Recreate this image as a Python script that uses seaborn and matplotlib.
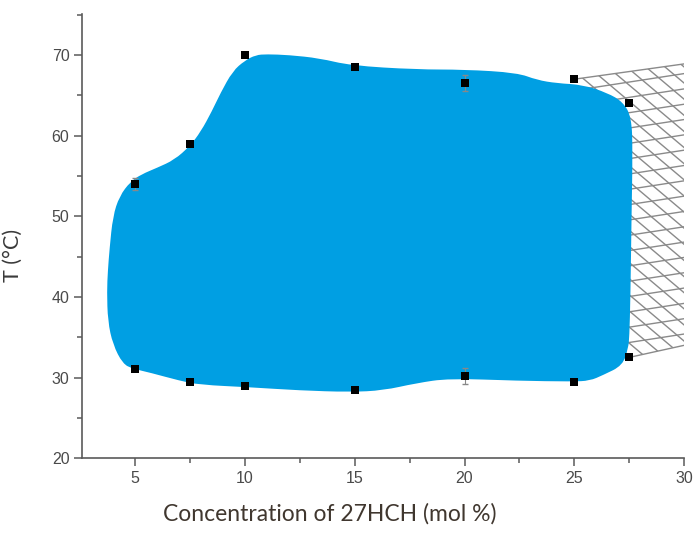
import numpy as np
import pandas as pd
import matplotlib
matplotlib.use("Agg")
import matplotlib.pyplot as plt
from matplotlib.patches import Polygon, PathPatch
from matplotlib.path import Path
from matplotlib.ticker import MultipleLocator
import seaborn as sns

# measured points (upper / lower transition temperatures)
conc = [5, 7.5, 10, 15, 20, 25, 27.5]
t_upper = [54, 59, 70, 68.5, 66.5, 67, 64]
t_lower = [31, 29.5, 29, 28.5, 30.2, 29.5, 32.5]
err_upper = [0.8, 0, 0, 0, 1.0, 0, 0]
err_lower = [0, 0, 0, 0, 1.0, 0, 0]

# outline of the shaded (blue) region
blob_x = [3.73, 3.77, 3.85, 4.0, 4.3, 4.8, 5.3, 6.0, 6.8, 7.5, 8.0, 8.5, 8.9,
          9.45, 10.0, 10.5, 11.0, 12.0, 13.4, 14.8, 17.8, 20.0, 22.4, 23.3,
          24.2, 25.4, 26.5, 27.2, 27.6, 27.65, 27.6, 27.55, 27.5, 27.45, 27.2,
          26.3, 25.7, 24.9, 22.4, 19.3, 17.8, 16.3, 14.8, 12.5, 10.2, 7.95,
          7.05, 5.7, 4.9, 4.45, 4.0, 3.77]
blob_y = [40.7, 43.2, 46.0, 50.0, 52.5, 54.3, 55.2, 56.0, 57.0, 58.7, 60.5,
          63.0, 65.3, 68.0, 69.3, 70.0, 70.1, 70.0, 69.6, 68.7, 68.2, 68.2,
          67.8, 66.9, 66.5, 66.3, 65.3, 64.2, 62.3, 58.0, 50.0, 40.0, 35.0,
          33.7, 31.5, 30.3, 29.6, 29.5, 29.6, 29.9, 29.3, 28.4, 28.2, 28.4,
          28.8, 29.1, 29.6, 30.6, 31.1, 31.7, 34.1, 37.0]

# corners of the cross-hatched region on the right
hatch_x = [25, 30, 30, 27.5]
hatch_y = [67, 68.9, 34.0, 32.5]


def smooth_closed_path(xs, ys):
    # quadratic curves through midpoints, outline points act as controls
    pts = np.column_stack([xs, ys])
    nxt = np.roll(pts, -1, axis=0)
    mids = (pts + nxt) / 2
    verts = [mids[-1]]
    codes = [Path.MOVETO]
    for p, m in zip(pts, mids):
        verts += [p, m]
        codes += [Path.CURVE3, Path.CURVE3]
    return Path(verts, codes)


sns.set_style("ticks")
plt.rcParams["font.family"] = ["Liberation Sans", "DejaVu Sans"]

fig = plt.figure(figsize=(6.94, 5.34), dpi=100)
ax = fig.add_axes([0.118, 0.142, 0.868, 0.832])

# hatched region: two families of slanted lines clipped to the polygon
hatch_poly = Polygon(np.column_stack([hatch_x, hatch_y]), closed=True,
                     facecolor="none", edgecolor="none", zorder=1)
ax.add_patch(hatch_poly)
hc = "#8a8a8a"
xs = np.array([24, 31])
for c in np.arange(20, 80, 1.9):
    ln, = ax.plot(xs, c + 0.42 * (xs - 25), color=hc, lw=1.0, zorder=1)
    ln.set_clip_path(hatch_poly)
for d in np.arange(20, 140, 2.0):
    ln, = ax.plot(xs, d - 2.3 * (xs - 25), color=hc, lw=1.0, zorder=1)
    ln.set_clip_path(hatch_poly)
ax.plot(hatch_x[:2], hatch_y[:2], color=hc, lw=1.0, zorder=1)
ax.plot([hatch_x[3], hatch_x[2]], [hatch_y[3], hatch_y[2]], color=hc, lw=1.0, zorder=1)

# blue region
ax.add_patch(PathPatch(smooth_closed_path(blob_x, blob_y), facecolor="#009fe3",
                       lw=0, zorder=2))

# error bars and points
ax.errorbar(conc, t_upper, yerr=err_upper, fmt="none", ecolor="#888888",
            elinewidth=0.8, capsize=2.5, zorder=3)
ax.errorbar(conc, t_lower, yerr=err_lower, fmt="none", ecolor="#888888",
            elinewidth=0.8, capsize=2.5, zorder=3)
pts = pd.DataFrame({"conc": conc * 2, "T": t_upper + t_lower})
sns.scatterplot(data=pts, x="conc", y="T", marker="s", s=32, color="black",
                edgecolor="black", linewidth=0, ax=ax, zorder=4)

ax.set_xlim(2.59, 30)
ax.set_ylim(20, 75.1)
ax.xaxis.set_major_locator(MultipleLocator(5))
ax.xaxis.set_minor_locator(MultipleLocator(2.5))
ax.yaxis.set_major_locator(MultipleLocator(10))
ax.yaxis.set_minor_locator(MultipleLocator(5))
ax.set_xticks([5, 10, 15, 20, 25, 30])

sns.despine(ax=ax)
for side in ["left", "bottom"]:
    ax.spines[side].set_color("#5a5a5a")
    ax.spines[side].set_linewidth(1.2)
ax.tick_params(which="major", length=6, width=1.1, color="#5a5a5a",
               labelsize=11.5, labelcolor="#4a4a4a", pad=3)
ax.tick_params(which="minor", length=3.5, width=1.1, color="#5a5a5a")

ax.set_xlabel("Concentration of 27HCH (mol %)", fontsize=16.5, color="#40372f",
              family=["Lato", "DejaVu Sans"], labelpad=15)
ax.xaxis.set_label_coords(0.411, -0.1, transform=ax.transAxes)
ax.set_ylabel("T (°C)", fontsize=15.5, color="#3a3a3a",
              family=["Lato", "DejaVu Sans"])
ax.yaxis.set_label_coords(-0.098, 0.457, transform=ax.transAxes)

fig.savefig("out.png", dpi=100)
